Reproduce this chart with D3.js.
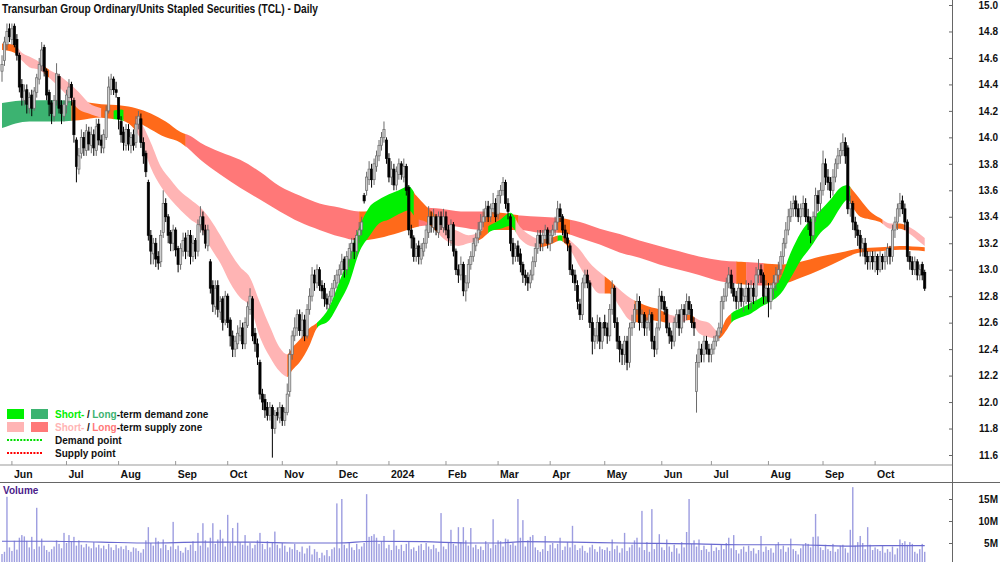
<!DOCTYPE html>
<html>
<head>
<meta charset="utf-8">
<script src="https://cdn.jsdelivr.net/npm/d3@7"></script>
<style>
body{margin:0;background:#fff;}
svg{display:block;font-family:"Liberation Sans",Arial,sans-serif;}
</style>
</head>
<body>
<svg id="chart" width="1000" height="562"></svg>
<script>
// ========== DATA ==========
const title = "Transurban Group Ordinary/Units Stapled Securities (TCL) - Daily";
const monthStarts = [4,26,47,70,91,113,135,156,179,200,221,243,266,286,309,331,352];
const monthLabels = ["Jun","Jul","Aug","Sep","Oct","Nov","Dec","2024","Feb","Mar","Apr","May","Jun","Jul","Aug","Sep","Oct"];
const priceTicks = [11.6,11.8,12.0,12.2,12.4,12.6,12.8,13.0,13.2,13.4,13.6,13.8,14.0,14.2,14.4,14.6,14.8,15.0];
const volTicks = [5,10,15];

const opens = [
14.50,14.58,14.70,14.82,14.74,14.84,14.74,14.62,14.40,14.28,
14.36,14.22,14.32,14.22,14.34,14.44,14.54,14.68,14.50,14.34,
14.26,14.16,14.28,14.46,14.24,14.16,14.24,14.30,14.40,14.28,
13.98,13.76,13.88,14.00,13.90,14.04,13.94,14.02,13.90,14.10,
13.98,13.92,14.00,14.20,14.36,14.44,14.36,14.30,14.12,14.04,
13.94,14.06,13.94,14.02,13.96,14.10,14.14,13.96,13.88,13.66,
13.26,13.12,13.20,13.10,13.06,13.28,13.50,13.40,13.28,13.20,
13.30,13.16,13.04,13.14,13.24,13.14,13.26,13.10,13.22,13.14,
13.34,13.40,13.30,13.18,13.06,12.88,12.72,12.88,12.68,12.78,
12.62,12.80,12.62,12.50,12.40,12.44,12.50,12.56,12.44,12.58,
12.70,12.78,12.52,12.44,12.30,12.06,12.02,11.96,11.90,11.96,
11.80,11.92,11.88,11.96,11.86,11.92,12.08,12.36,12.50,12.56,
12.66,12.54,12.62,12.50,12.70,12.80,12.96,12.90,13.00,12.88,
12.86,12.78,12.74,12.80,12.86,12.90,12.96,13.00,13.08,13.00,
13.08,13.14,13.20,13.14,13.26,13.30,13.56,13.60,13.68,13.76,
13.68,13.78,13.86,13.94,14.00,13.98,13.84,13.70,13.76,13.64,
13.72,13.80,13.70,13.78,13.62,13.30,13.24,13.10,13.18,13.08,
13.14,13.20,13.28,13.40,13.32,13.40,13.28,13.40,13.32,13.40,
13.30,13.22,13.34,13.14,13.00,12.96,13.04,12.84,12.90,13.04,
13.10,13.18,13.24,13.30,13.36,13.40,13.48,13.40,13.46,13.50,
13.42,13.56,13.60,13.66,13.50,13.40,13.20,13.10,13.18,13.12,
13.04,12.96,12.94,12.90,12.96,13.06,13.16,13.26,13.20,13.26,
13.30,13.20,13.26,13.30,13.36,13.46,13.40,13.30,13.24,13.18,
13.00,12.96,12.88,12.74,12.66,12.90,12.96,12.90,12.60,12.46,
12.50,12.60,12.46,12.60,12.56,12.50,12.70,12.86,12.60,12.46,
12.40,12.36,12.46,12.30,12.56,12.60,12.70,12.76,12.60,12.66,
12.56,12.60,12.66,12.46,12.40,12.56,12.80,12.76,12.70,12.56,
12.50,12.46,12.60,12.66,12.56,12.70,12.66,12.76,12.70,12.60,
12.08,12.30,12.40,12.36,12.46,12.40,12.36,12.40,12.46,12.50,
12.56,12.76,12.80,12.90,12.96,12.86,12.80,12.76,12.86,12.76,
12.80,12.86,12.76,12.86,12.80,12.96,13.00,12.96,12.80,12.86,
12.76,12.86,12.90,12.96,13.00,13.10,13.20,13.30,13.40,13.46,
13.52,13.46,13.40,13.46,13.50,13.40,13.36,13.26,13.40,13.56,
13.50,13.60,13.80,13.70,13.66,13.60,13.70,13.80,13.86,13.90,
13.96,13.92,13.46,13.50,13.36,13.30,13.26,13.16,13.20,13.10,
13.06,13.10,13.06,13.10,13.00,13.10,13.06,13.10,13.16,13.10,
13.30,13.36,13.46,13.52,13.46,13.36,13.10,13.06,13.00,13.06,
12.96,13.04,12.98];

const highs = [
14.62,14.76,14.86,14.86,14.86,14.86,14.78,14.64,14.44,14.40,
14.40,14.34,14.36,14.38,14.48,14.60,14.72,14.70,14.52,14.36,
14.28,14.32,14.56,14.48,14.28,14.28,14.36,14.44,14.42,14.30,
14.00,13.92,14.06,14.04,14.10,14.08,14.08,14.06,14.14,14.14,
14.02,14.06,14.24,14.46,14.48,14.46,14.42,14.30,14.16,14.08,
14.10,14.10,14.04,14.06,14.16,14.20,14.18,14.00,13.90,13.68,
13.30,13.24,13.24,13.14,13.30,13.60,13.54,13.42,13.30,13.34,
13.32,13.18,13.20,13.28,13.28,13.30,13.30,13.26,13.24,13.38,
13.48,13.44,13.34,13.34,13.08,12.92,12.92,12.92,12.80,12.80,
12.84,12.82,12.64,12.54,12.50,12.58,12.62,12.60,12.64,12.76,
12.86,12.80,12.56,12.48,12.32,12.10,12.06,12.00,12.00,11.98,
11.94,11.96,12.00,11.98,11.96,12.14,12.40,12.54,12.64,12.70,
12.70,12.68,12.66,12.74,12.86,13.02,13.00,13.04,13.02,12.92,
12.90,12.82,12.84,12.90,12.96,13.00,13.04,13.12,13.10,13.14,
13.20,13.24,13.24,13.30,13.36,13.40,13.58,13.74,13.82,13.80,
13.84,13.90,13.98,14.04,14.12,14.00,13.88,13.82,13.80,13.78,
13.84,13.82,13.84,13.80,13.64,13.34,13.26,13.20,13.22,13.20,
13.24,13.34,13.48,13.44,13.46,13.42,13.44,13.44,13.46,13.44,
13.34,13.38,13.36,13.16,13.04,13.10,13.06,12.96,13.08,13.14,
13.24,13.28,13.36,13.42,13.46,13.52,13.52,13.50,13.58,13.54,
13.60,13.64,13.70,13.68,13.54,13.42,13.24,13.20,13.22,13.16,
13.06,13.00,12.98,13.00,13.10,13.20,13.30,13.30,13.30,13.34,
13.32,13.30,13.34,13.40,13.52,13.50,13.42,13.34,13.28,13.20,
13.04,13.00,12.92,12.78,12.94,13.00,13.00,12.92,12.64,12.56,
12.66,12.64,12.60,12.66,12.60,12.74,12.92,12.88,12.64,12.50,
12.44,12.50,12.50,12.60,12.66,12.74,12.82,12.80,12.70,12.68,
12.64,12.70,12.68,12.50,12.60,12.86,12.84,12.80,12.72,12.60,
12.54,12.64,12.70,12.70,12.74,12.74,12.82,12.80,12.74,12.64,
12.36,12.46,12.44,12.50,12.50,12.44,12.44,12.50,12.54,12.60,
12.80,12.86,12.94,13.02,13.00,12.90,12.84,12.90,12.90,12.86,
12.92,12.90,12.92,12.90,13.02,13.08,13.04,12.98,12.92,12.90,
12.90,12.96,13.02,13.06,13.14,13.24,13.36,13.46,13.52,13.56,
13.56,13.50,13.50,13.56,13.54,13.46,13.40,13.44,13.62,13.60,
13.66,13.90,13.84,13.76,13.70,13.76,13.84,13.92,13.96,14.03,
14.00,13.94,13.56,13.52,13.40,13.34,13.30,13.24,13.24,13.14,
13.14,13.14,13.14,13.12,13.14,13.12,13.14,13.20,13.18,13.34,
13.40,13.50,13.58,13.56,13.50,13.38,13.14,13.10,13.10,13.08,
13.04,13.06,13.00];

const lows = [
14.42,14.54,14.66,14.72,14.70,14.68,14.58,14.34,14.24,14.24,
14.18,14.18,14.16,14.20,14.30,14.40,14.50,14.46,14.28,14.16,
14.10,14.12,14.24,14.18,14.10,14.12,14.18,14.26,14.24,13.96,
13.66,13.72,13.84,13.86,13.86,13.90,13.88,13.86,13.86,13.94,
13.88,13.88,13.98,14.18,14.32,14.32,14.30,14.06,13.96,13.90,
13.90,13.90,13.88,13.90,13.92,14.06,13.92,13.80,13.70,13.22,
13.04,13.04,13.02,13.00,13.02,13.24,13.36,13.20,13.14,13.14,
13.10,12.98,13.00,13.10,13.08,13.10,13.04,13.06,13.08,13.10,
13.28,13.26,13.16,13.14,12.82,12.68,12.66,12.64,12.62,12.54,
12.58,12.56,12.42,12.34,12.34,12.40,12.46,12.40,12.40,12.56,
12.66,12.46,12.38,12.28,12.02,11.94,11.88,11.86,11.86,11.58,
11.76,11.86,11.84,11.82,11.82,11.90,12.04,12.32,12.46,12.50,
12.50,12.48,12.46,12.48,12.66,12.76,12.84,12.86,12.84,12.78,
12.72,12.70,12.70,12.76,12.80,12.86,12.90,12.96,12.94,12.96,
13.02,13.08,13.08,13.10,13.20,13.26,13.50,13.56,13.64,13.62,
13.64,13.74,13.82,13.90,13.96,13.80,13.66,13.64,13.60,13.60,
13.68,13.68,13.66,13.56,13.26,13.16,13.06,13.06,13.04,13.04,
13.10,13.16,13.24,13.28,13.28,13.26,13.24,13.30,13.28,13.26,
13.18,13.18,13.10,12.96,12.90,12.92,12.80,12.76,12.86,13.00,
13.06,13.14,13.20,13.26,13.32,13.36,13.36,13.36,13.42,13.36,
13.38,13.50,13.56,13.46,13.38,13.14,13.04,13.06,13.06,12.98,
12.90,12.88,12.84,12.86,12.92,13.02,13.12,13.14,13.14,13.20,
13.16,13.14,13.20,13.26,13.30,13.36,13.26,13.20,13.14,12.96,
12.90,12.84,12.70,12.62,12.62,12.86,12.86,12.56,12.36,12.40,
12.44,12.40,12.40,12.50,12.44,12.46,12.66,12.56,12.40,12.30,
12.28,12.28,12.24,12.26,12.50,12.56,12.66,12.54,12.56,12.50,
12.50,12.54,12.40,12.34,12.36,12.54,12.70,12.66,12.52,12.44,
12.40,12.42,12.56,12.50,12.52,12.60,12.62,12.66,12.56,12.50,
11.92,12.26,12.30,12.30,12.36,12.30,12.30,12.36,12.42,12.46,
12.52,12.70,12.76,12.86,12.82,12.76,12.70,12.70,12.72,12.68,
12.74,12.70,12.70,12.74,12.76,12.90,12.90,12.74,12.74,12.64,
12.70,12.78,12.84,12.90,12.96,13.04,13.16,13.26,13.36,13.40,
13.40,13.36,13.34,13.40,13.36,13.30,13.20,13.22,13.36,13.44,
13.44,13.56,13.64,13.60,13.54,13.56,13.66,13.76,13.80,13.86,
13.80,13.42,13.40,13.30,13.24,13.18,13.10,13.10,13.04,13.00,
13.00,13.00,12.98,12.96,12.98,13.00,13.00,13.04,13.04,13.06,
13.24,13.30,13.40,13.42,13.30,13.06,13.00,12.96,12.96,12.92,
12.92,12.92,12.84];

const closes = [
14.55,14.72,14.80,14.76,14.82,14.70,14.62,14.38,14.30,14.35,
14.25,14.30,14.22,14.35,14.45,14.55,14.66,14.50,14.32,14.25,
14.18,14.28,14.48,14.22,14.18,14.25,14.32,14.38,14.30,14.02,
13.78,13.86,14.00,13.92,14.05,13.95,14.02,13.92,14.08,13.98,
13.94,14.02,14.20,14.38,14.44,14.36,14.34,14.14,14.02,13.96,
14.06,13.95,14.00,13.94,14.10,14.16,13.96,13.86,13.74,13.26,
13.14,13.20,13.08,13.05,13.26,13.50,13.40,13.26,13.20,13.30,
13.15,13.04,13.16,13.22,13.14,13.26,13.10,13.20,13.14,13.34,
13.40,13.30,13.20,13.30,12.86,12.74,12.86,12.70,12.76,12.60,
12.80,12.60,12.50,12.40,12.46,12.52,12.56,12.44,12.60,12.72,
12.80,12.50,12.44,12.34,12.06,12.00,11.94,11.90,11.96,11.80,
11.90,11.90,11.96,11.86,11.92,12.06,12.36,12.50,12.56,12.66,
12.54,12.62,12.50,12.70,12.80,12.96,12.90,13.00,12.88,12.84,
12.78,12.74,12.80,12.86,12.92,12.96,13.00,13.06,13.00,13.10,
13.16,13.20,13.14,13.26,13.30,13.36,13.52,13.70,13.76,13.68,
13.80,13.86,13.94,14.00,14.06,13.84,13.70,13.76,13.64,13.74,
13.80,13.72,13.78,13.60,13.30,13.24,13.10,13.16,13.10,13.16,
13.20,13.30,13.40,13.34,13.40,13.30,13.40,13.34,13.40,13.30,
13.24,13.34,13.14,13.00,12.96,13.04,12.84,12.90,13.04,13.10,
13.20,13.24,13.30,13.36,13.40,13.46,13.40,13.46,13.50,13.40,
13.56,13.60,13.66,13.50,13.44,13.20,13.10,13.16,13.10,13.04,
12.96,12.94,12.90,12.96,13.06,13.16,13.26,13.20,13.26,13.30,
13.20,13.26,13.30,13.36,13.46,13.40,13.30,13.24,13.20,13.00,
12.96,12.90,12.76,12.66,12.90,12.96,12.90,12.60,12.46,12.50,
12.60,12.46,12.56,12.56,12.50,12.70,12.86,12.60,12.46,12.40,
12.36,12.46,12.30,12.56,12.60,12.70,12.76,12.60,12.66,12.56,
12.60,12.66,12.46,12.40,12.56,12.80,12.76,12.70,12.56,12.50,
12.46,12.60,12.66,12.56,12.70,12.66,12.76,12.70,12.60,12.56,
12.30,12.40,12.36,12.46,12.40,12.36,12.40,12.46,12.50,12.56,
12.76,12.80,12.90,12.96,12.86,12.80,12.76,12.86,12.76,12.80,
12.86,12.76,12.86,12.80,12.96,13.00,12.96,12.80,12.86,12.76,
12.86,12.90,12.96,13.00,13.10,13.20,13.30,13.40,13.46,13.50,
13.46,13.40,13.46,13.50,13.40,13.36,13.26,13.40,13.56,13.50,
13.60,13.80,13.70,13.66,13.60,13.70,13.80,13.86,13.90,13.96,
13.86,13.46,13.50,13.36,13.30,13.26,13.16,13.20,13.10,13.06,
13.10,13.06,13.10,13.00,13.10,13.06,13.10,13.16,13.10,13.30,
13.36,13.46,13.50,13.46,13.36,13.10,13.06,13.00,13.06,12.96,
13.00,12.96,12.86];

// volume in millions
const volumes = [
2.5,3.0,15.5,4.0,3.2,5.5,3.5,6.2,6.8,6.5,
5.5,4.0,6.4,3.6,13.0,4.2,6.0,4.4,3.4,3.0,
3.6,4.2,5.6,4.8,3.8,7.3,5.0,6.8,5.4,6.4,
4.4,5.6,4.6,4.0,4.8,4.2,3.8,5.2,4.0,4.6,
3.8,4.4,3.6,4.8,4.0,3.4,4.6,3.8,4.2,3.6,
4.4,3.4,3.0,4.0,3.8,3.2,2.8,3.6,5.6,8.6,
5.0,4.4,6.2,5.4,3.8,5.8,4.6,3.4,4.2,9.8,
3.6,4.4,3.2,2.8,4.0,3.4,4.6,5.4,3.2,7.3,
4.4,9.5,5.6,4.0,6.2,9.5,4.8,5.8,8.0,6.0,
4.2,11.4,5.0,8.4,4.4,9.6,5.2,4.6,6.8,4.4,
5.0,3.8,4.6,5.6,7.3,4.8,3.6,5.4,4.0,5.2,
7.6,4.6,3.8,5.0,4.4,3.0,4.0,3.6,4.8,3.4,
3.0,4.2,2.6,3.8,4.4,2.4,3.6,3.0,1.6,2.8,
2.2,3.4,2.0,3.6,4.0,14.0,3.8,15.0,4.6,3.8,
5.2,4.0,3.4,4.8,3.6,4.2,5.0,16.1,6.4,6.6,
7.0,6.2,4.8,5.4,6.6,3.8,4.6,3.4,8.0,4.4,
3.6,4.6,3.2,4.8,5.2,3.6,4.0,3.2,4.4,4.8,
3.4,5.0,4.2,3.6,4.6,3.8,3.0,11.8,4.2,3.6,
5.0,8.0,4.8,4.4,8.6,5.2,8.6,5.6,4.4,8.4,
4.0,4.6,3.6,4.2,3.4,5.4,4.8,3.8,10.4,4.6,
5.6,5.4,4.2,6.0,5.8,4.6,5.0,4.4,15.0,6.2,
10.2,4.2,5.6,6.4,6.8,4.0,3.4,3.0,3.6,6.6,
3.2,4.6,5.0,3.8,4.8,6.2,3.4,4.2,5.2,4.0,
8.9,4.6,3.4,3.8,4.4,3.2,2.8,4.0,4.6,3.6,
3.0,4.2,3.6,3.4,4.0,3.2,5.8,3.6,4.4,2.8,
3.8,7.3,3.2,4.0,4.6,5.6,6.2,4.0,12.3,3.4,
5.2,3.0,12.7,3.6,4.8,7.0,4.0,3.4,5.8,4.2,
3.0,4.6,3.8,2.6,5.2,4.0,7.5,15.0,4.8,5.6,
4.2,5.8,3.4,4.4,3.6,3.0,4.8,3.2,4.0,3.4,
4.6,3.6,5.0,6.2,3.8,6.8,3.4,2.6,3.6,4.2,
3.0,4.4,3.2,3.8,2.6,3.4,6.6,3.0,4.2,3.4,
3.8,2.8,4.6,5.2,3.6,4.4,3.0,4.0,6.0,3.6,
3.2,2.4,3.8,4.6,5.0,4.8,4.0,6.4,11.6,6.5,
4.0,3.4,4.6,3.6,3.2,4.8,3.0,3.6,4.4,4.6,
3.8,2.8,8.0,17.7,4.4,5.2,6.6,5.0,3.6,8.6,
4.6,3.4,4.0,3.6,3.2,4.4,2.8,3.6,3.0,4.2,
2.4,3.8,5.8,5.0,5.4,4.6,5.2,4.8,3.0,2.6,
3.6,4.8,3.0];

// volume average line
const volAvgIdx = [0,20,40,60,80,100,120,135,150,170,190,200,210,230,250,265,280,300,320,340,355,372];
const volAvg    = [5.4,5.4,5.2,5.0,5.2,5.2,5.0,5.0,5.4,5.3,5.0,5.0,5.3,5.2,5.0,4.9,4.8,4.6,4.6,4.3,4.4,4.4];

// short-term ribbon
const shortIdx = [0,5,8,11,15,19,23,27,31,35,40,44,48,52,56,60,64,68,72,76,80,84,88,92,96,100,104,108,112,115,117,120,124,127,132,136,140,144,148,152,156,160,164,167,171,175,179,184,188,193,197,201,205,209,213,217,221,225,229,233,237,241,245,249,253,257,261,265,268,273,277,281,285,289,292,294,298,302,306,310,314,318,322,326,330,334,338,341,343,346,350,354,358,362,366,370,372];
const shortTop = [14.71,14.70,14.64,14.61,14.57,14.51,14.47,14.41,14.34,14.26,14.22,14.20,14.21,14.16,14.11,13.96,13.78,13.68,13.59,13.53,13.47,13.38,13.26,13.13,13.02,12.94,12.75,12.57,12.41,12.36,12.41,12.47,12.56,12.60,12.72,12.91,13.10,13.32,13.47,13.53,13.57,13.60,13.63,13.56,13.48,13.41,13.34,13.29,13.26,13.29,13.34,13.38,13.43,13.32,13.26,13.23,13.24,13.26,13.22,13.15,13.05,12.98,12.92,12.85,12.79,12.75,12.72,12.70,12.67,12.65,12.66,12.62,12.60,12.53,12.63,12.67,12.71,12.75,12.79,12.85,12.94,13.13,13.28,13.38,13.45,13.53,13.62,13.64,13.60,13.53,13.44,13.39,13.35,13.35,13.32,13.27,13.24];
const shortBot = [14.66,14.64,14.58,14.53,14.51,14.45,14.38,14.30,14.21,14.18,14.15,14.14,14.13,14.09,13.98,13.77,13.63,13.53,13.45,13.38,13.32,13.17,13.05,12.90,12.79,12.72,12.49,12.34,12.23,12.19,12.24,12.30,12.43,12.56,12.62,12.75,12.90,13.13,13.25,13.35,13.38,13.42,13.45,13.39,13.36,13.29,13.22,13.18,13.20,13.23,13.29,13.31,13.33,13.23,13.18,13.17,13.19,13.22,13.15,13.02,12.90,12.82,12.82,12.72,12.62,12.60,12.62,12.61,12.60,12.60,12.62,12.52,12.49,12.48,12.54,12.60,12.64,12.67,12.72,12.76,12.82,12.94,13.07,13.17,13.28,13.35,13.47,13.53,13.47,13.40,13.38,13.36,13.31,13.31,13.27,13.21,13.18];

// long-term ribbon
const longIdx = [0,11,23,31,40,48,54,60,66,72,76,80,88,96,104,112,120,128,136,144,152,160,169,177,185,193,201,209,217,225,233,241,249,257,265,273,281,290,298,306,314,322,330,338,346,354,362,372];
const longTop = [14.26,14.28,14.28,14.27,14.25,14.24,14.22,14.18,14.12,14.04,14.01,13.96,13.89,13.83,13.74,13.63,13.56,13.50,13.47,13.44,13.45,13.47,13.47,13.46,13.44,13.44,13.43,13.41,13.40,13.39,13.36,13.31,13.27,13.22,13.18,13.14,13.10,13.07,13.06,13.05,13.04,13.06,13.10,13.13,13.16,13.17,13.18,13.17];
const longBot = [14.07,14.12,14.12,14.13,14.15,14.14,14.12,14.06,14.00,13.96,13.90,13.83,13.72,13.62,13.53,13.44,13.36,13.30,13.25,13.22,13.24,13.28,13.33,13.34,13.32,13.30,13.30,13.30,13.28,13.28,13.24,13.19,13.13,13.09,13.04,13.00,12.96,12.91,12.89,12.88,12.89,12.94,13.00,13.07,13.13,13.14,13.15,13.14];

// zone state per stretch of days: D = demand, N = neutral, S = supply
const shortZones = [[0,6,"N"],[6,17,"S"],[17,19,"N"],[19,40,"S"],[40,45,"N"],[45,49,"D"],[49,54,"N"],[54,115,"S"],[115,127,"N"],[127,166,"D"],[166,176,"N"],[176,192,"S"],[192,196,"N"],[196,207,"D"],[207,217,"S"],[217,224,"N"],[224,226,"D"],[226,229,"N"],[229,243,"S"],[243,247,"N"],[247,255,"S"],[255,268,"N"],[268,276,"S"],[276,279,"N"],[279,289,"S"],[289,294,"N"],[294,342,"D"],[342,355,"N"],[355,360,"S"],[360,364,"N"],[364,372,"S"]];
const longZones = [[0,28,"D"],[28,74,"N"],[74,144,"S"],[144,168,"N"],[168,194,"S"],[194,208,"N"],[208,224,"S"],[224,229,"N"],[229,296,"S"],[296,300,"N"],[300,307,"S"],[307,372,"N"]];

// ========== LAYOUT ==========
const W = 1000, H = 562;
const axisX = 952;
const colors = {
    short:{D:"#00f000", N:"#ff6a1a", S:"#ffb4b4"},
    long:{D:"#3cb371", N:"#ff6a1a", S:"#ff7878"}
};

const svg = d3.select("#chart");
const x = d3.scaleLinear().domain([0,383]).range([2,axisX]);
const y = d3.scaleLinear().domain([11.6,15.0]).range([455,5]);
const yv = d3.scaleLinear().domain([0,15]).range([565,499]);

// ========== RIBBONS ==========
const defs = svg.append("defs");
function drawRibbon(name, idx, top, bot, zones) {
    const pts = idx.map((d,i)=>({i:d, t:top[i], b:bot[i]}));
    const area = d3.area()
        .x(d=>x(d.i)).y0(d=>y(d.b)).y1(d=>y(d.t))
        .curve(d3.curveMonotoneX);
    zones.forEach((z,k)=>{
        const id = `clip_${name}_${k}`;
        defs.append("clipPath").attr("id",id)
            .append("rect")
            .attr("x", x(z[0])).attr("width", x(z[1])-x(z[0])+0.3)
            .attr("y",0).attr("height",465);
        svg.append("path")
            .datum(pts)
            .attr("d",area)
            .attr("fill",colors[name][z[2]])
            .attr("clip-path",`url(#${id})`);
    });
}
drawRibbon("long", longIdx, longTop, longBot, longZones);
drawRibbon("short", shortIdx, shortTop, shortBot, shortZones);

// ========== CANDLES ==========
const candles = closes.map((c,i)=>({i, o:opens[i], h:highs[i], l:lows[i], c}));
const cg = svg.append("g");
cg.selectAll("line").data(candles).join("line")
    .attr("x1",d=>x(d.i)).attr("x2",d=>x(d.i))
    .attr("y1",d=>y(d.h)).attr("y2",d=>y(d.l))
    .attr("stroke",d=>d.c>=d.o?"#6a6a6a":"#000")
    .attr("stroke-width",1);
cg.selectAll("rect").data(candles).join("rect")
    .attr("x",d=>x(d.i)-1.1).attr("width",2.2)
    .attr("y",d=>y(Math.max(d.o,d.c)))
    .attr("height",d=>Math.max(1,Math.abs(y(d.o)-y(d.c))))
    .attr("fill",d=>d.c>=d.o?"#cfcfcf":"#000")
    .attr("stroke",d=>d.c>=d.o?"#6a6a6a":"#000")
    .attr("stroke-width",0.7);

// ========== FRAME / AXES ==========
svg.append("line").attr("x1",0).attr("x2",axisX).attr("y1",465).attr("y2",465).attr("stroke","#999");
svg.append("line").attr("x1",0).attr("x2",W).attr("y1",482.5).attr("y2",482.5).attr("stroke","#666");
svg.append("line").attr("x1",axisX+0.5).attr("x2",axisX+0.5).attr("y1",0).attr("y2",H).attr("stroke","#666");

// month ticks and labels
const mg = svg.append("g");
monthStarts.forEach((m,k)=>{
    mg.append("line").attr("x1",x(m)).attr("x2",x(m)).attr("y1",461).attr("y2",465).attr("stroke","#999");
    mg.append("text").attr("x",x(m)+2).attr("y",478)
        .style("font-size","10.5px").style("font-weight","bold").style("fill","#111")
        .text(monthLabels[k]);
});

// price axis
const yAxisLabels = svg.append("g").attr("transform",`translate(998,0)`)
    .call(d3.axisLeft(y).tickValues(priceTicks).tickFormat(d3.format(".1f")).tickSize(0).tickPadding(0));
const yAxisTicks = svg.append("g").attr("transform",`translate(${axisX},0)`)
    .call(d3.axisLeft(y).tickValues(priceTicks).tickFormat("").tickSize(3));
const vAxisLabels = svg.append("g").attr("transform",`translate(998,0)`)
    .call(d3.axisLeft(yv).tickValues(volTicks).tickFormat(d=>d+"M").tickSize(0).tickPadding(0));
const vAxisTicks = svg.append("g").attr("transform",`translate(${axisX},0)`)
    .call(d3.axisLeft(yv).tickValues(volTicks).tickFormat("").tickSize(3));
[yAxisLabels,yAxisTicks,vAxisLabels,vAxisTicks].forEach(g=>{
    g.select(".domain").remove();
    g.selectAll("line").attr("stroke","#666");
    g.selectAll("text").style("font-size","10px").style("font-weight","bold")
        .style("font-family","'Liberation Sans',Arial,sans-serif").style("fill","#111");
});

// ========== VOLUME ==========
svg.append("g").selectAll("rect").data(volumes).join("rect")
    .attr("x",(d,i)=>x(i)-0.7).attr("width",1.4)
    .attr("y",d=>yv(d)).attr("height",d=>H-yv(d))
    .attr("fill","#9d9de0");
svg.append("path")
    .datum(volAvgIdx.map((d,i)=>[d,volAvg[i]]))
    .attr("d",d3.line().x(d=>x(d[0])).y(d=>yv(d[1])).curve(d3.curveMonotoneX))
    .attr("fill","none").attr("stroke","#6a6ad0").attr("stroke-width",1.2);
svg.append("text").attr("x",3).attr("y",494)
    .style("font-size","10px").style("font-weight","bold").style("fill","#4b1c8a")
    .text("Volume");

// ========== TITLE ==========
svg.append("text").attr("x",2).attr("y",13)
    .attr("textLength",316).attr("lengthAdjust","spacingAndGlyphs")
    .style("font-size","12px").style("font-weight","bold").style("fill","#111")
    .text(title);

// ========== LEGEND ==========
const lg = svg.append("g");
const legRows = [
    {y:409, swatches:[colors.short.D, colors.long.D], parts:[["Short-",colors.short.D],["/","#111"],["Long",colors.long.D],["-term demand zone","#111"]]},
    {y:422, swatches:[colors.short.S, colors.long.S], parts:[["Short-",colors.short.S],["/","#111"],["Long",colors.long.S],["-term supply zone","#111"]]}
];
legRows.forEach(r=>{
    r.swatches.forEach((c,k)=>lg.append("rect").attr("x",7+k*24).attr("y",r.y).attr("width",17).attr("height",10).attr("fill",c));
    // each coloured piece is its own text, laid end to end
    let cx = 55;
    r.parts.forEach((p,k)=>{
        if (k===1 || k===2) cx += 2.5;
        const t = lg.append("text").attr("x",cx).attr("y",r.y+9)
            .style("font-size","10px").style("font-weight","bold").style("fill",p[1]).text(p[0]);
        cx += t.node().getComputedTextLength();
    });
});
[["Demand point","#00dd00",440],["Supply point","#ff0000",453]].forEach(r=>{
    lg.append("line").attr("x1",7).attr("x2",43).attr("y1",r[2]).attr("y2",r[2])
        .attr("stroke",r[1]).attr("stroke-width",2).attr("stroke-dasharray","2,1.3");
    lg.append("text").attr("x",55).attr("y",r[2]+4)
        .style("font-size","10px").style("font-weight","bold").style("fill","#111").text(r[0]);
});
</script>
</body>
</html>
